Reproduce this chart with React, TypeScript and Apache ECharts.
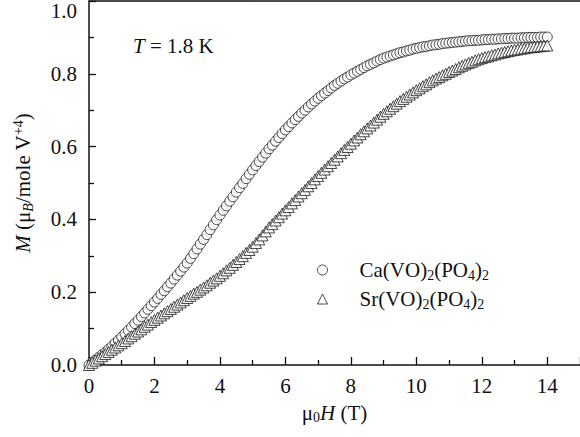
import React, { useEffect, useRef } from "react";
import * as echarts from "echarts";

const FIELD = [
  0.0, 0.1, 0.2, 0.3, 0.4, 0.5, 0.6, 0.7, 0.8, 0.9,
  1.0, 1.1, 1.2, 1.3, 1.4, 1.5, 1.6, 1.7, 1.8, 1.9,
  2.0, 2.1, 2.2, 2.3, 2.4, 2.5, 2.6, 2.7, 2.8, 2.9,
  3.0, 3.1, 3.2, 3.3, 3.4, 3.5, 3.6, 3.7, 3.8, 3.9,
  4.0, 4.1, 4.2, 4.3, 4.4, 4.5, 4.6, 4.7, 4.8, 4.9,
  5.0, 5.1, 5.2, 5.3, 5.4, 5.5, 5.6, 5.7, 5.8, 5.9,
  6.0, 6.1, 6.2, 6.3, 6.4, 6.5, 6.6, 6.7, 6.8, 6.9,
  7.0, 7.1, 7.2, 7.3, 7.4, 7.5, 7.6, 7.7, 7.8, 7.9,
  8.0, 8.1, 8.2, 8.3, 8.4, 8.5, 8.6, 8.7, 8.8, 8.9,
  9.0, 9.1, 9.2, 9.3, 9.4, 9.5, 9.6, 9.7, 9.8, 9.9,
  10.0, 10.1, 10.2, 10.3, 10.4, 10.5, 10.6, 10.7, 10.8, 10.9,
  11.0, 11.1, 11.2, 11.3, 11.4, 11.5, 11.6, 11.7, 11.8, 11.9,
  12.0, 12.1, 12.2, 12.3, 12.4, 12.5, 12.6, 12.7, 12.8, 12.9,
  13.0, 13.1, 13.2, 13.3, 13.4, 13.5, 13.6, 13.7, 13.8, 13.9,
  14.0,
];

const CA_M = [
  0.000, 0.007, 0.014, 0.021, 0.028, 0.035, 0.043, 0.051, 0.060, 0.068,
  0.077, 0.086, 0.095, 0.104, 0.114, 0.123, 0.133, 0.143, 0.153, 0.163,
  0.173, 0.183, 0.194, 0.204, 0.215, 0.225, 0.236, 0.247, 0.258, 0.269,
  0.280, 0.293, 0.306, 0.319, 0.332, 0.345, 0.358, 0.372, 0.385, 0.399,
  0.412, 0.425, 0.437, 0.450, 0.462, 0.475, 0.487, 0.499, 0.512, 0.524,
  0.536, 0.548, 0.559, 0.571, 0.582, 0.594, 0.604, 0.615, 0.625, 0.636,
  0.646, 0.655, 0.665, 0.674, 0.683, 0.692, 0.700, 0.709, 0.717, 0.725,
  0.733, 0.740, 0.747, 0.754, 0.761, 0.768, 0.774, 0.780, 0.786, 0.791,
  0.797, 0.802, 0.807, 0.812, 0.817, 0.822, 0.826, 0.830, 0.835, 0.839,
  0.843, 0.846, 0.849, 0.852, 0.855, 0.858, 0.860, 0.863, 0.865, 0.868,
  0.870, 0.872, 0.874, 0.875, 0.877, 0.879, 0.880, 0.881, 0.883, 0.884,
  0.885, 0.886, 0.887, 0.888, 0.889, 0.890, 0.891, 0.891, 0.892, 0.892,
  0.893, 0.894, 0.894, 0.895, 0.895, 0.896, 0.896, 0.897, 0.897, 0.898,
  0.898, 0.898, 0.899, 0.899, 0.900, 0.900, 0.900, 0.900, 0.901, 0.901,
  0.901,
];

const SR_M = [
  0.000, 0.006, 0.012, 0.018, 0.024, 0.030, 0.036, 0.042, 0.048, 0.054,
  0.060, 0.066, 0.073, 0.079, 0.086, 0.092, 0.098, 0.105, 0.111, 0.118,
  0.124, 0.130, 0.136, 0.142, 0.148, 0.154, 0.160, 0.166, 0.172, 0.178,
  0.184, 0.190, 0.196, 0.201, 0.207, 0.213, 0.219, 0.226, 0.232, 0.238,
  0.245, 0.252, 0.260, 0.267, 0.275, 0.283, 0.291, 0.299, 0.308, 0.316,
  0.325, 0.335, 0.345, 0.356, 0.367, 0.378, 0.387, 0.397, 0.406, 0.416,
  0.425, 0.434, 0.444, 0.453, 0.463, 0.472, 0.481, 0.491, 0.500, 0.510,
  0.519, 0.528, 0.537, 0.546, 0.555, 0.564, 0.573, 0.582, 0.591, 0.599,
  0.608, 0.617, 0.625, 0.634, 0.642, 0.650, 0.658, 0.666, 0.674, 0.682,
  0.690, 0.697, 0.704, 0.711, 0.718, 0.725, 0.731, 0.737, 0.743, 0.749,
  0.755, 0.760, 0.766, 0.771, 0.777, 0.782, 0.787, 0.791, 0.796, 0.800,
  0.805, 0.809, 0.813, 0.818, 0.822, 0.826, 0.830, 0.833, 0.837, 0.840,
  0.843, 0.846, 0.848, 0.851, 0.853, 0.856, 0.858, 0.860, 0.862, 0.864,
  0.866, 0.867, 0.869, 0.870, 0.872, 0.873, 0.874, 0.875, 0.876, 0.877,
  0.878,
];

const SERIES_NAMES = ["Ca(VO)2(PO4)2", "Sr(VO)2(PO4)2"];
const LEGEND_RICH_LABELS: Record<string, string> = {
  "Ca(VO)2(PO4)2": "Ca(VO){sub|2}(PO{sub|4}){sub|2}",
  "Sr(VO)2(PO4)2": "Sr(VO){sub|2}(PO{sub|4}){sub|2}",
};
const X_TICK_LABELS = ["0", "2", "4", "6", "8", "10", "12", "14"];
const ANNOTATION = "{i|T} = 1.8 K";
const X_NAME = "μ{sub|0}{i|H} (T)";
const Y_NAME = "{i|M} (μ{isub|B}/mole V{sup|+4})";

const FONT = "Liberation Serif";
const INK = "#111";

const richStyles = {
  i: { fontFamily: FONT, fontSize: 21, fontStyle: "italic", color: INK, lineHeight: 24 },
  sub: { fontFamily: FONT, fontSize: 14, color: INK, verticalAlign: "bottom", lineHeight: 10 },
  isub: { fontFamily: FONT, fontSize: 14, fontStyle: "italic", color: INK, verticalAlign: "bottom", lineHeight: 10 },
  sup: { fontFamily: FONT, fontSize: 14, color: INK, verticalAlign: "top", lineHeight: 14 },
  top: { fontFamily: FONT, fontSize: 21, color: INK, padding: [20, 0, 0, 0] },
};

export default function App() {
  const ref = useRef<HTMLDivElement>(null);
  useEffect(() => {
    if (!ref.current) return;
    const chart = echarts.init(ref.current, null, { renderer: "svg" });
    const ca = FIELD.map((h, i) => [h, CA_M[i]]);
    const sr = FIELD.map((h, i) => [h, SR_M[i]]);
    const symbolStyle = { color: "#fff", borderColor: "#1a1a1a", borderWidth: 1 };
    chart.setOption({
      animation: false,
      backgroundColor: "#fff",
      textStyle: { fontFamily: FONT },
      grid: { left: 89, right: -6, top: 1, bottom: 72 },
      xAxis: [
        {
          type: "value",
          min: 0,
          max: 15,
          interval: 2,
          position: "bottom",
          axisLine: { lineStyle: { color: INK, width: 1.5 } },
          axisTick: { inside: true, length: 8, lineStyle: { color: INK, width: 1.3 } },
          minorTick: { show: true, splitNumber: 2, length: 5, lineStyle: { color: INK, width: 1.3 } },
          splitLine: { show: false },
          axisLabel: {
            margin: 10,
            color: INK,
            fontFamily: FONT,
            fontSize: 21,
            showMaxLabel: false,
            formatter: (v: number) => {
              const s = String(v);
              return X_TICK_LABELS.includes(s) ? s : "";
            },
          },
          name: X_NAME,
          nameLocation: "middle",
          nameGap: 34,
          nameTextStyle: {
            fontFamily: FONT,
            fontSize: 21,
            color: INK,
            lineHeight: 24,
            rich: richStyles,
          },
        },
        {
          type: "value",
          min: 0,
          max: 15,
          position: "top",
          axisLine: { show: true, onZero: false, lineStyle: { color: INK, width: 1.5 } },
          axisTick: { show: false },
          axisLabel: { show: false },
          splitLine: { show: false },
        },
      ],
      yAxis: {
        type: "value",
        min: 0,
        max: 1.0,
        interval: 0.2,
        axisLine: { show: true, lineStyle: { color: INK, width: 1.5 } },
        axisTick: { inside: true, length: 7, lineStyle: { color: INK, width: 1.3 } },
        minorTick: { show: true, splitNumber: 2, length: 5, lineStyle: { color: INK, width: 1.3 } },
        splitLine: { show: false },
        axisLabel: {
          margin: 12,
          color: INK,
          fontFamily: FONT,
          fontSize: 21,
          formatter: (v: number) => (v >= 1 ? "{top|" + v.toFixed(1) + "}" : v.toFixed(1)),
          rich: richStyles,
        },
        name: Y_NAME,
        nameLocation: "middle",
        nameGap: 54,
        nameRotate: 90,
        nameTextStyle: {
          fontFamily: FONT,
          fontSize: 21,
          color: INK,
          lineHeight: 24,
          rich: richStyles,
        },
      },
      legend: {
        orient: "vertical",
        left: 312,
        top: 253,
        itemWidth: 10,
        itemHeight: 10,
        itemGap: 5,
        data: [
          { name: SERIES_NAMES[0], icon: "circle" },
          { name: SERIES_NAMES[1], icon: "triangle" },
        ],
        formatter: (name: string) => LEGEND_RICH_LABELS[name] || name,
        textStyle: {
          fontFamily: FONT,
          fontSize: 21,
          color: INK,
          lineHeight: 24,
          padding: [0, 0, 0, 27],
          rich: richStyles,
        },
        itemStyle: { color: "#fff", borderColor: "#222", borderWidth: 1 },
      },
      graphic: [
        {
          type: "text",
          left: 133,
          top: 34,
          style: {
            text: ANNOTATION,
            fontFamily: FONT,
            fontSize: 21,
            fill: INK,
            lineHeight: 24,
            rich: {
              i: { fontFamily: FONT, fontSize: 21, fontStyle: "italic", fill: INK, lineHeight: 24 },
            },
          },
        },
      ],
      series: [
        {
          name: SERIES_NAMES[0],
          type: "scatter",
          data: ca,
          symbol: "circle",
          symbolSize: 10,
          itemStyle: symbolStyle,
          emphasis: { disabled: true },
        },
        {
          name: SERIES_NAMES[1],
          type: "scatter",
          data: sr,
          symbol: "triangle",
          symbolSize: 11,
          itemStyle: symbolStyle,
          emphasis: { disabled: true },
        },
      ],
    });
    return () => chart.dispose();
  }, []);
  return <div ref={ref} style={{ width: 580, height: 437, position: "fixed", left: 0, top: 0 }} />;
}
